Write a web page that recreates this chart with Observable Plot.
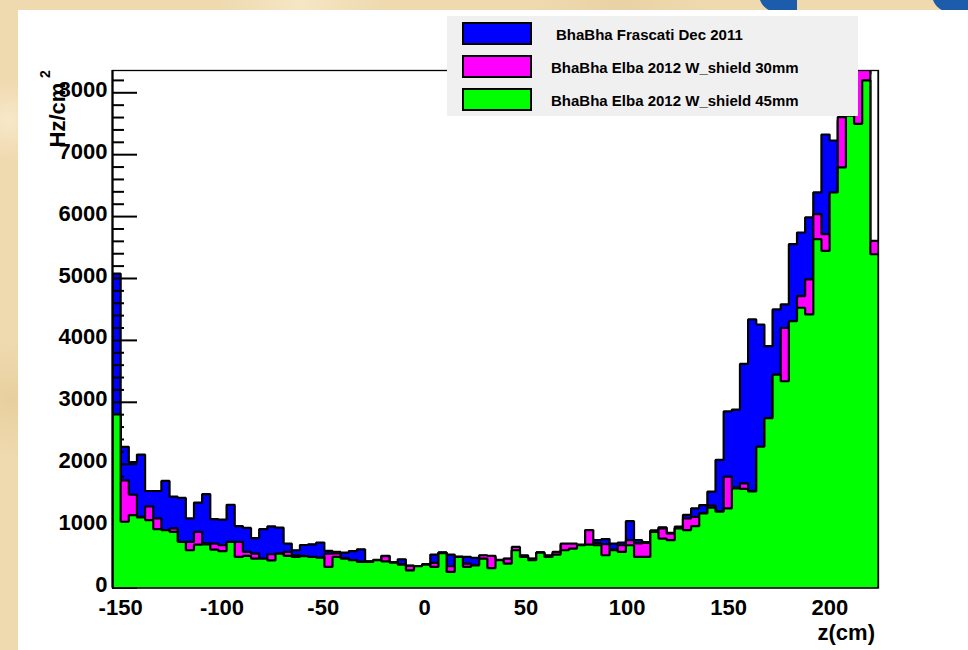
<!DOCTYPE html>
<html><head><meta charset="utf-8">
<script src="https://cdn.jsdelivr.net/npm/d3@7"></script>
<script src="https://cdn.jsdelivr.net/npm/@observablehq/plot@0.6"></script>
<style>
html,body{margin:0;padding:0;}
body{width:968px;height:650px;overflow:hidden;position:relative;
 background:#efdab0;
 background-image:radial-gradient(circle at 8px 120px,#f7e8c8 0,rgba(247,232,200,0) 40px),
 radial-gradient(circle at 10px 400px,#e8cf9e 0,rgba(232,207,158,0) 60px),
 radial-gradient(circle at 300px 4px,#f6e6c4 0,rgba(246,230,196,0) 80px),
 radial-gradient(circle at 620px 4px,#e9d2a4 0,rgba(233,210,164,0) 90px);
 font-family:"Liberation Sans",Arial,sans-serif;}
.blob{position:absolute;background:#1d5cab;}
#panel{position:absolute;left:18px;top:10px;right:0;bottom:0;background:#fff;}
#chart{position:absolute;left:0;top:0;}
#legend{position:absolute;left:447px;top:16px;width:411px;height:100px;background:#f0f0f0;}
.sw{position:absolute;left:15px;width:66px;height:19px;border:2px solid #000;}
.lt{position:absolute;font-weight:bold;font-size:15px;color:#000;white-space:nowrap;line-height:1;}
.ttl{position:absolute;font-weight:bold;color:#000;white-space:nowrap;}
</style></head>
<body>
<div class="blob" style="left:759px;top:-6px;width:38px;height:18px;border-bottom-left-radius:22px;"></div>
<div class="blob" style="left:932px;top:-6px;width:40px;height:18px;border-bottom-left-radius:22px;"></div>
<div id="panel"></div>
<div id="chart"></div>
<div id="legend"></div>
<div class="ttl" style="font-size:22px;line-height:22px;height:22px;width:66px;text-align:center;left:25px;top:104px;transform:rotate(-90deg);transform-origin:50% 50%;">Hz/cm</div>
<div class="ttl" style="font-size:14px;line-height:14px;left:41px;top:67px;transform:rotate(-90deg);">2</div>
<div class="ttl" style="font-size:22px;line-height:22px;right:93px;top:622px;">z(cm)</div>
<script>
// histogram range (cm) and frame maximum
const zMin = -154, zMax = 224, yMax = 8360;

const seriesNames = ["BhaBha Frascati Dec 2011", "BhaBha Elba 2012 W_shield 30mm", "BhaBha Elba 2012 W_shield 45mm"];
const seriesColors = ["#0000ff", "#ff00ff", "#00ff00"];

// Hz/cm^2 per bin (94 bins)
const blue = [5080,2280,2035,2155,1567,1567,1729,1475,1455,1124,
1380,1515,1113,1105,1345,1000,970,805,950,995,
975,718,610,695,705,735,600,583,570,597,
624,430,455,520,415,464,360,355,385,540,
575,540,505,502,486,520,500,455,470,600,
510,475,575,529,560,700,700,690,780,772,
790,718,735,1080,772,740,930,980,890,990,
1180,1286,1340,1556,2069,2853,2880,3620,4338,4257,
3906,4500,4581,5554,5743,5986,6391,7326,7229,7550,
7650,8100,8300,8600];

const magenta = [2700,1740,1510,1150,1320,1124,930,962,740,746,
908,720,718,691,740,746,583,556,470,545,
550,583,529,510,495,470,556,560,480,450,
425,425,448,515,410,380,356,351,378,405,
570,351,502,394,370,529,520,448,475,664,
529,470,570,510,583,718,718,702,935,720,
708,620,691,772,720,730,920,962,880,970,
1124,1150,1210,1330,1240,1799,1620,1690,1570,2200,
2700,3400,4200,4300,4716,4987,6040,5716,6350,7607,
7600,8600,8600,5608];

const green = [2805,1070,1178,1140,1097,950,935,908,746,610,
700,705,620,595,746,502,520,475,475,445,
556,520,502,515,502,490,340,502,475,448,
421,421,448,430,410,378,286,351,378,340,
565,259,502,340,367,475,320,448,394,610,
502,448,570,502,540,610,637,691,702,691,
529,610,583,691,502,502,908,799,772,962,
935,1000,1205,1300,1232,1286,1610,1600,1560,2285,
2744,3447,3340,4311,4527,4419,5635,5446,6391,6796,
7630,7499,8201,5392];

const xTicks = [-150,-100,-50,0,50,100,150,200];
const yTicks = [0,1000,2000,3000,4000,5000,6000,7000,8000];
const yMinorTicks = d3.range(200, 8400, 200).filter(v => v % 1000 !== 0);

function steps(vals) {
  const w = (zMax - zMin) / vals.length;
  const pts = [{x: zMin, y: 0}];
  vals.forEach((v, i) => { pts.push({x: zMin + i * w, y: v}, {x: zMin + (i + 1) * w, y: v}); });
  pts.push({x: zMax, y: 0});
  return pts;
}
function histMarks(vals, color) {
  const pts = steps(vals);
  return [
    Plot.areaY(pts, {x: "x", y1: 0, y2: "y", fill: color, clip: true}),
    Plot.line(pts, {x: "x", y: "y", stroke: "#000", strokeWidth: 2.2, strokeLinejoin: "miter", clip: true})
  ];
}
const bw = (zMax - zMin) / blue.length;
const blueOverflow = [{x1: zMin + (blue.length - 1) * bw, x2: zMax, y: blue[blue.length - 1]}];
const bluePts = steps(blue);

const chart = Plot.plot({
  width: 968, height: 650,
  marginLeft: 112, marginRight: 90, marginTop: 70, marginBottom: 62.5,
  x: {domain: [zMin, zMax], label: null},
  y: {domain: [0, yMax], label: null},
  style: {background: "transparent", fontFamily: "Liberation Sans, Arial, sans-serif", overflow: "visible", color: "#000"},
  marks: [
    Plot.areaY(bluePts, {x: "x", y1: 0, y2: "y", fill: seriesColors[0], clip: true}),
    Plot.rectY(blueOverflow, {x1: "x1", x2: "x2", y1: 0, y2: "y", fill: "#fff", clip: true}),
    Plot.line(bluePts, {x: "x", y: "y", stroke: "#000", strokeWidth: 2.2, strokeLinejoin: "miter", clip: true}),
    Plot.ruleY(yMinorTicks, {x1: zMin, x2: zMin, insetRight: -12, stroke: "#000", strokeWidth: 2}),
    Plot.ruleY(yTicks, {x1: zMin, x2: zMin, insetRight: -25, stroke: "#000", strokeWidth: 2}),
    ...histMarks(magenta, seriesColors[1]),
    ...histMarks(green, seriesColors[2]),
    Plot.ruleY([0], {stroke: "#333", strokeWidth: 1}),
    Plot.frame({stroke: "#000", strokeWidth: 1.3}),
    Plot.ruleX([zMin], {stroke: "#000", strokeWidth: 2.2}),
    Plot.axisY({ticks: yTicks, tickSize: 0, tickPadding: 5, dy: -3, fontSize: 22, fontWeight: "bold", tickFormat: d => String(d), label: null}),
    Plot.axisX({ticks: xTicks, tickSize: 0, tickPadding: 11, fontSize: 22, fontWeight: "bold", tickFormat: d => String(d), label: null})
  ]
});
document.getElementById("chart").appendChild(chart);

// legend
const lg = document.getElementById("legend");
const swTops = [6, 39, 72];
const txtLeft = [109, 104, 104];
seriesNames.forEach((name, i) => {
  const sw = document.createElement("div");
  sw.className = "sw";
  sw.style.top = swTops[i] + "px";
  sw.style.background = seriesColors[i];
  lg.appendChild(sw);
  const t = document.createElement("div");
  t.className = "lt";
  t.style.left = txtLeft[i] + "px";
  t.style.top = (swTops[i] + 5) + "px";
  t.textContent = name;
  lg.appendChild(t);
});
</script>
</body></html>
